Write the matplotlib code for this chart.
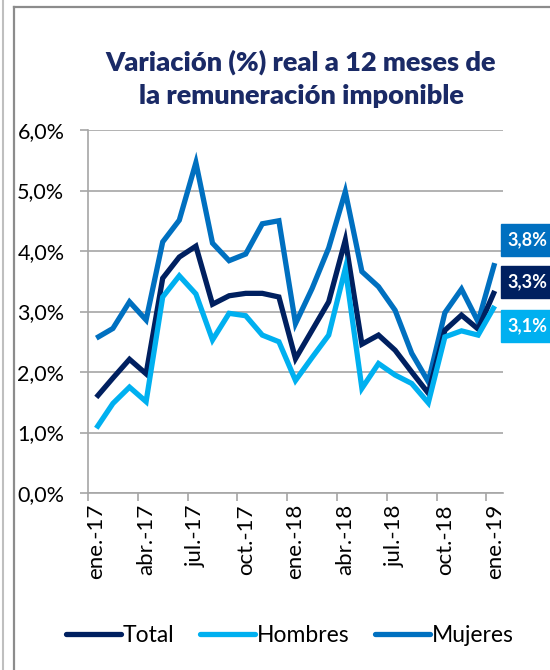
import matplotlib
matplotlib.use("Agg")
import matplotlib.pyplot as plt
from matplotlib.lines import Line2D
from matplotlib.patches import Rectangle
from matplotlib.ticker import FixedLocator, FuncFormatter

plt.rcParams['font.family'] = ['Lato', 'DejaVu Sans']

months = ["ene.-17", "feb.-17", "mar.-17", "abr.-17", "may.-17", "jun.-17",
          "jul.-17", "ago.-17", "sep.-17", "oct.-17", "nov.-17", "dic.-17",
          "ene.-18", "feb.-18", "mar.-18", "abr.-18", "may.-18", "jun.-18",
          "jul.-18", "ago.-18", "sep.-18", "oct.-18", "nov.-18", "dic.-18",
          "ene.-19"]

total = [1.58, 1.90, 2.21, 1.97, 3.55, 3.90, 4.08, 3.12, 3.26, 3.30, 3.30, 3.24,
         2.22, 2.69, 3.16, 4.18, 2.46, 2.61, 2.36, 2.00, 1.65, 2.69, 2.94, 2.71, 3.34]
hombres = [1.07, 1.48, 1.75, 1.51, 3.24, 3.59, 3.29, 2.53, 2.97, 2.93, 2.61, 2.50,
           1.86, 2.24, 2.61, 3.71, 1.73, 2.14, 1.95, 1.81, 1.49, 2.58, 2.68, 2.61, 3.09]
mujeres = [2.56, 2.72, 3.16, 2.86, 4.15, 4.51, 5.46, 4.13, 3.84, 3.95, 4.45, 4.50,
           2.80, 3.38, 4.05, 4.98, 3.66, 3.41, 3.02, 2.31, 1.84, 2.98, 3.37, 2.83, 3.80]

series_names = ["Total", "Hombres", "Mujeres"]
colors = {"Total": "#002060", "Hombres": "#00B0F0", "Mujeres": "#0070C0"}
values = {"Total": total, "Hombres": hombres, "Mujeres": mujeres}

title_lines = "Variación (%) real a 12 meses de\nla remuneración imponible"

W, H = 550, 670
fig = plt.figure(figsize=(W / 100, H / 100), dpi=100)
ax = fig.add_axes([88 / W, 1 - 493 / H, (503 - 88) / W, (493 - 130) / H])

x = list(range(len(months)))
for name in ["Mujeres", "Total", "Hombres"]:
    ax.plot(x, values[name], color=colors[name], lw=3.8, solid_joinstyle='miter',
            solid_capstyle='butt', zorder=3)

ax.set_xlim(-0.5, len(months) - 0.5)
ax.set_ylim(0, 6)
ax.set_yticks([0, 1, 2, 3, 4, 5, 6])
ax.yaxis.set_major_formatter(FuncFormatter(lambda v, p: f"{v:.1f}".replace(".", ",") + "%"))
ax.grid(axis='y', color='#A6A6A6', lw=1.2, zorder=1)
ax.set_axisbelow(True)

major_pos = x[::3]
ax.set_xticks(major_pos)
ax.set_xticklabels([months[i] for i in major_pos], rotation=90)
ax.xaxis.set_minor_locator(FixedLocator([p - 0.5 for p in major_pos]))
ax.tick_params(axis='x', which='major', length=0, pad=8, labelsize=16, colors='black')
ax.tick_params(axis='x', which='minor', length=6, width=1.2, color='#A6A6A6', direction='out')
ax.tick_params(axis='y', length=6, width=1.2, color='#A6A6A6', pad=11, labelsize=15.5)

for s in ['top', 'right']:
    ax.spines[s].set_visible(False)
for s in ['left', 'bottom']:
    ax.spines[s].set_color('#A6A6A6')
    ax.spines[s].set_linewidth(1.2)

fig.text(301 / W, 1 - 79 / H, title_lines, ha='center', va='center', fontsize=19.5,
         fontweight='heavy', color='#1A2A66', linespacing=1.45)

handles = [Line2D([0], [0], color=colors[n], lw=3.8, solid_capstyle='round') for n in series_names]
fig.legend(handles, series_names, loc='center', bbox_to_anchor=(290 / W, 1 - 636 / H),
           ncol=3, frameon=False, fontsize=16.5, handlelength=2.4, handletextpad=0.1,
           columnspacing=1.1)

# end-value boxes
box_centers = {"Mujeres": 240, "Total": 282, "Hombres": 326}
for name in ["Mujeres", "Total", "Hombres"]:
    cy = box_centers[name]
    fig.patches.append(Rectangle((501 / W, 1 - (cy + 16) / H), 60 / W, 32 / H,
                                 transform=fig.transFigure, color=colors[name], zorder=5))
    lbl = f"{values[name][-1]:.1f}".replace(".", ",") + "%"
    fig.text(507 / W, 1 - cy / H, lbl, ha='left', va='center', fontsize=13,
             fontweight='bold', color='white', zorder=6)

# outer frame lines
fig.add_artist(Line2D([2.5 / W, 2.5 / W], [0, 1], color='#BFBFBF', lw=1.5, transform=fig.transFigure))
fig.add_artist(Line2D([14 / W, 14 / W], [0, 1 - 7 / H], color='#8C8C8C', lw=1.6, transform=fig.transFigure))
fig.add_artist(Line2D([14 / W, 1], [1 - 7 / H, 1 - 7 / H], color='#8C8C8C', lw=1.6, transform=fig.transFigure))

fig.savefig("out.png", dpi=100)
